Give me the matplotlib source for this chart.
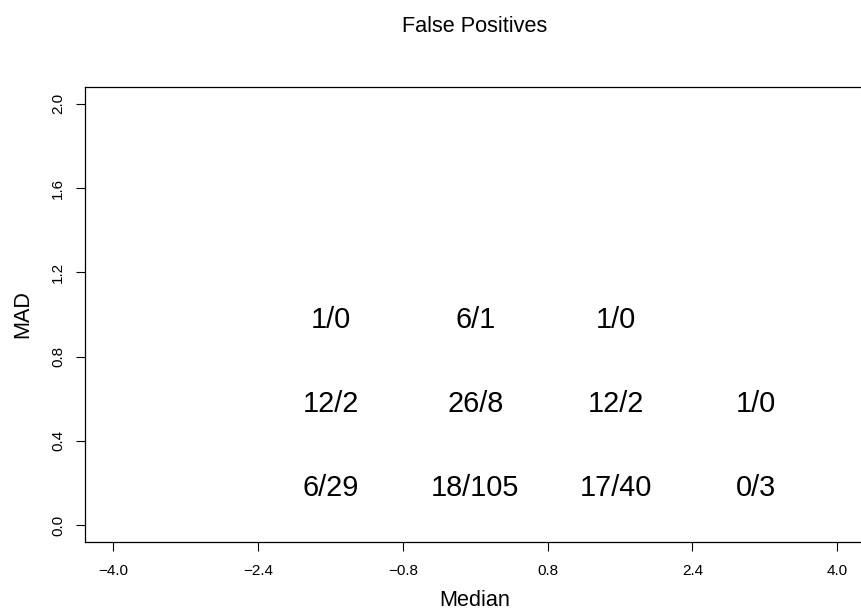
import matplotlib
matplotlib.use('Agg')
from matplotlib import pyplot as plt
from matplotlib.transforms import offset_copy

# cell grid of counts
x_pos = [-1.6, 0.0, 1.55, 3.1]
y_pos = [1.0, 0.6, 0.2]
labels = [
    ['1/0', '6/1', '1/0', ''],
    ['12/2', '26/8', '12/2', '1/0'],
    ['6/29', '18/105', '17/40', '0/3'],
]
x_ticks = [-4.0, -2.4, -0.8, 0.8, 2.4, 4.0]
y_ticks = [0.0, 0.4, 0.8, 1.2, 1.6, 2.0]

plt.rcParams['font.family'] = ['Liberation Sans', 'DejaVu Sans']

fig = plt.figure(figsize=(8.61, 6.11), dpi=100)
ax = fig.add_axes([84.5/861, 1-542/611, (866-84.5)/861, (542-87)/611])
ax.set_xlim(-4.32, 4.32)
ax.set_ylim(-0.08, 2.08)

# baseline a bit below the cell centre, like R's text()
trans = offset_copy(ax.transData, fig=fig, x=0, y=-9.6, units='points')
for i, yv in enumerate(y_pos):
    for j, xv in enumerate(x_pos):
        if labels[i][j]:
            ax.text(xv, yv, labels[i][j], ha='center', va='baseline',
                    fontsize=20.8, transform=trans)

ax.set_xticks(x_ticks)
ax.set_xticklabels([f'{v:.1f}'.replace('-', '\u2212') for v in x_ticks])
ax.set_yticks(y_ticks)
ax.set_yticklabels([f'{v:.1f}' for v in y_ticks], rotation=90, va='center')
ax.tick_params(direction='out', length=6.5, width=0.8, labelsize=11)
ax.tick_params(axis='x', pad=9)
ax.tick_params(axis='y', pad=7.5)
for s in ax.spines.values():
    s.set_linewidth(0.9)

cx = 475/861
fig.text(cx, 1-32/611, 'False Positives', ha='center', va='baseline', fontsize=15.6)
fig.text(cx, 1-606/611, 'Median', ha='center', va='baseline', fontsize=15.6)
fig.text(22.5/861, 1-314.5/611, 'MAD', ha='center', va='center', fontsize=15.6, rotation=90)

fig.savefig('out.png', dpi=100)
